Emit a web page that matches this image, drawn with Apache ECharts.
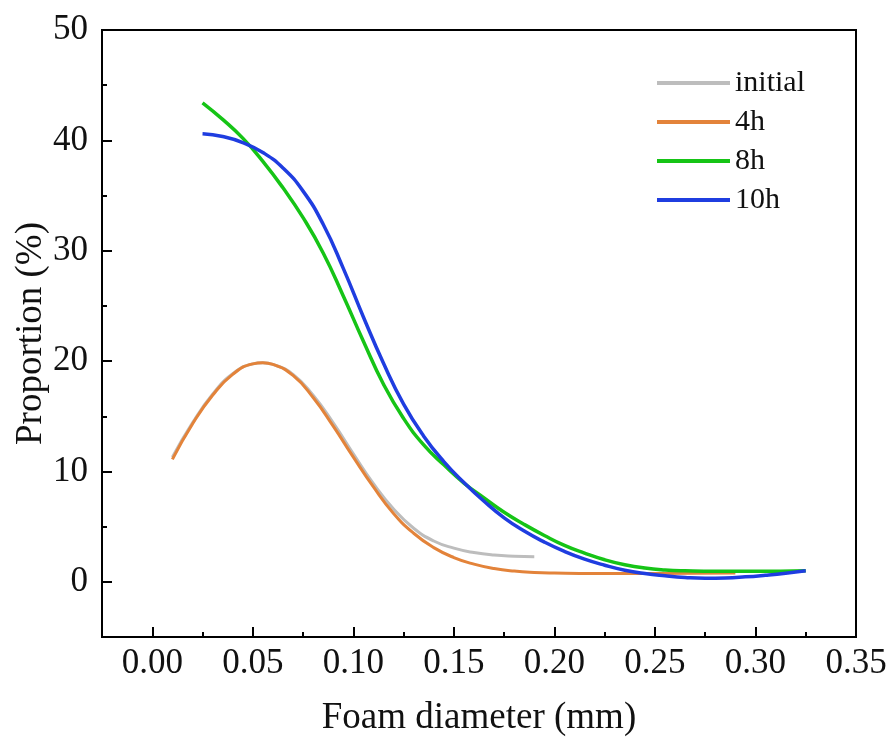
<!DOCTYPE html>
<html>
<head>
<meta charset="utf-8">
<script src="https://cdn.jsdelivr.net/npm/echarts@6/dist/echarts.min.js"></script>
<style>
  html, body { margin: 0; padding: 0; background: #fff; }
  #main { width: 888px; height: 743px; }
</style>
</head>
<body>
<div id="main"></div>
<script>
// 读图得到的数据
var xInitial = [0.01, 0.02, 0.03, 0.04, 0.05, 0.055, 0.06, 0.07, 0.08, 0.09, 0.10, 0.11, 0.12, 0.13, 0.14, 0.15, 0.16, 0.17, 0.18, 0.19];
var yInitial = [11.3, 14.4, 17.0, 18.85, 19.75, 19.85, 19.7, 18.8, 16.9, 14.4, 11.6, 8.9, 6.6, 4.85, 3.7, 3.05, 2.65, 2.42, 2.32, 2.28];

var x4h = [0.01, 0.02, 0.03, 0.04, 0.05, 0.055, 0.06, 0.07, 0.08, 0.09, 0.10, 0.11, 0.12, 0.13, 0.14, 0.15, 0.16, 0.17, 0.18, 0.19, 0.20, 0.22, 0.25, 0.29];
var y4h = [11.1, 14.3, 16.9, 18.8, 19.75, 19.85, 19.7, 18.7, 16.7, 14.1, 11.3, 8.6, 6.2, 4.4, 3.1, 2.2, 1.6, 1.2, 0.97, 0.85, 0.8, 0.76, 0.76, 0.8];

var x8h = [0.025, 0.035, 0.045, 0.055, 0.065, 0.075, 0.085, 0.095, 0.105, 0.115, 0.125, 0.135, 0.145, 0.155, 0.165, 0.175, 0.185, 0.195, 0.205, 0.215, 0.225, 0.235, 0.245, 0.255, 0.265, 0.28, 0.30, 0.325];
var y8h = [43.4, 41.9, 40.2, 38.1, 35.7, 33.0, 29.8, 25.9, 21.8, 17.9, 14.8, 12.4, 10.6, 8.95, 7.6, 6.3, 5.2, 4.2, 3.3, 2.6, 2.0, 1.55, 1.25, 1.08, 1.0, 0.95, 0.95, 1.0];

var x10h = [0.025, 0.035, 0.045, 0.055, 0.065, 0.075, 0.085, 0.095, 0.105, 0.115, 0.125, 0.135, 0.145, 0.155, 0.165, 0.175, 0.185, 0.195, 0.205, 0.215, 0.225, 0.235, 0.245, 0.255, 0.265, 0.275, 0.285, 0.295, 0.305, 0.315, 0.325];
var y10h = [40.6, 40.35, 39.8, 38.9, 37.5, 35.4, 32.4, 28.4, 24.0, 19.8, 16.1, 13.2, 10.9, 9.0, 7.3, 5.8, 4.6, 3.6, 2.75, 2.05, 1.5, 1.05, 0.75, 0.55, 0.4, 0.33, 0.35, 0.45, 0.6, 0.78, 1.0];

var xTicks = [0, 0.05, 0.10, 0.15, 0.20, 0.25, 0.30, 0.35];
var xMinor = [0.025, 0.075, 0.125, 0.175, 0.225, 0.275, 0.325];
var yTicks = [0, 10, 20, 30, 40, 50];
var yMinor = [-5, 5, 15, 25, 35, 45];

function pairs(xs, ys) {
  return xs.map(function (x, i) { return [x, ys[i]]; });
}

var font = "'Liberation Serif', 'Times New Roman', serif";
var myChart = echarts.init(document.getElementById("main"));

var option = {
  animation: false,
  textStyle: { fontFamily: font },
  grid: {
    left: 102, right: 32, top: 30, bottom: 106,
    outerBoundsMode: "none",
    show: true, borderColor: "#000", borderWidth: 2
  },
  legend: {
    orient: "vertical",
    left: 652, top: 63,
    itemWidth: 73, itemHeight: 4, itemGap: 9,
    icon: "rect",
    textStyle: { fontFamily: font, fontSize: 30, color: "#111", lineHeight: 30, padding: [0, 0, 0, 0] },
    data: ["initial", "4h", "8h", "10h"]
  },
  xAxis: [
    {
      type: "value", min: -0.025, max: 0.35,
      name: "Foam diameter (mm)", nameLocation: "middle", nameGap: 63,
      nameMoveOverlap: false,
      nameTextStyle: { fontFamily: font, fontSize: 37, color: "#111" },
      axisLine: { onZero: false, lineStyle: { color: "#000", width: 2 } },
      axisTick: { inside: true, length: 10, lineStyle: { width: 2 }, customValues: xTicks },
      axisLabel: {
        customValues: xTicks, margin: 9,
        fontFamily: font, fontSize: 35, color: "#111",
        formatter: function (v) { return v.toFixed(2); }
      },
      splitLine: { show: false }
    },
    {
      type: "value", min: -0.025, max: 0.35, position: "bottom",
      axisLine: { show: false, onZero: false },
      axisTick: { inside: true, length: 5, lineStyle: { color: "#000", width: 2 }, customValues: xMinor },
      axisLabel: { show: false },
      splitLine: { show: false }
    }
  ],
  yAxis: [
    {
      type: "value", min: -5, max: 50,
      name: "Proportion (%)", nameLocation: "middle", nameGap: 52,
      nameMoveOverlap: false,
      nameTextStyle: { fontFamily: font, fontSize: 37, color: "#111" },
      axisLine: { show: true, onZero: false, lineStyle: { color: "#000", width: 2 } },
      axisTick: { show: true, inside: true, length: 10, lineStyle: { width: 2 }, customValues: yTicks },
      axisLabel: { customValues: yTicks, margin: 14, fontFamily: font, fontSize: 35, color: "#111" },
      splitLine: { show: false }
    },
    {
      type: "value", min: -5, max: 50, position: "left",
      axisLine: { show: false, onZero: false },
      axisTick: { show: true, inside: true, length: 5, lineStyle: { color: "#000", width: 2 }, customValues: yMinor },
      axisLabel: { show: false },
      splitLine: { show: false }
    }
  ],
  series: [
    { name: "initial", type: "line", smooth: 0.5, showSymbol: false, z: 1,
      lineStyle: { width: 3, color: "#bdbdbd" }, itemStyle: { color: "#bdbdbd" },
      data: pairs(xInitial, yInitial) },
    { name: "4h", type: "line", smooth: 0.5, showSymbol: false, z: 2,
      lineStyle: { width: 3, color: "#e3833a" }, itemStyle: { color: "#e3833a" },
      data: pairs(x4h, y4h) },
    { name: "8h", type: "line", smooth: 0.5, showSymbol: false, z: 3,
      lineStyle: { width: 3.5, color: "#16c416" }, itemStyle: { color: "#16c416" },
      data: pairs(x8h, y8h) },
    { name: "10h", type: "line", smooth: 0.5, showSymbol: false, z: 4,
      lineStyle: { width: 3.5, color: "#1f3de0" }, itemStyle: { color: "#1f3de0" },
      data: pairs(x10h, y10h) }
  ]
};

option && myChart.setOption(option);
window.addEventListener("resize", function () {
  myChart.resize();
});
</script>
</body>
</html>
